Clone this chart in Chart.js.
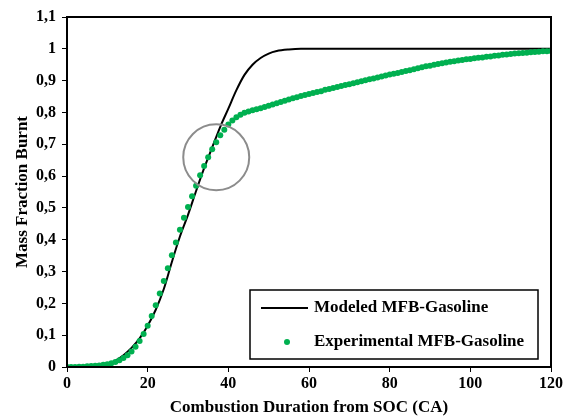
<!DOCTYPE html>
<html>
<head>
<meta charset="utf-8">
<script src="https://cdn.jsdelivr.net/npm/chart.js@4.4.1/dist/chart.umd.min.js"></script>
<style>
  body { margin: 0; background: #fff; }
  #wrap { width: 568px; height: 418px; position: relative; }
</style>
</head>
<body>
<div id="wrap"><canvas id="mfbChart"></canvas></div>
<script>
// experimental points, one per CA degree (0..120)
const expAngle = [];
for (let i = 0; i <= 120; i++) expAngle.push(i);
const expMfb = [
  0.000, 0.000, 0.000, 0.001, 0.001, 0.002, 0.003, 0.004, 0.005, 0.007,
  0.009, 0.012, 0.016, 0.021, 0.028, 0.037, 0.049, 0.064, 0.082, 0.104,
  0.130, 0.160, 0.194, 0.231, 0.270, 0.310, 0.351, 0.391, 0.431, 0.469,
  0.503, 0.537, 0.570, 0.603, 0.632, 0.659, 0.684, 0.706, 0.728, 0.746,
  0.762, 0.775, 0.785, 0.793, 0.799, 0.803, 0.807, 0.810, 0.813, 0.817,
  0.821, 0.825, 0.829, 0.833, 0.837, 0.841, 0.845, 0.848, 0.852, 0.855,
  0.858, 0.861, 0.864, 0.867, 0.871, 0.874, 0.877, 0.880, 0.883, 0.886,
  0.889, 0.892, 0.895, 0.898, 0.901, 0.904, 0.907, 0.910, 0.913, 0.916,
  0.919, 0.922, 0.924, 0.927, 0.930, 0.933, 0.936, 0.939, 0.942, 0.945,
  0.947, 0.950, 0.952, 0.955, 0.957, 0.959, 0.961, 0.963, 0.965, 0.967,
  0.968, 0.970, 0.972, 0.973, 0.975, 0.976, 0.978, 0.979, 0.981, 0.982,
  0.984, 0.985, 0.986, 0.987, 0.988, 0.989, 0.990, 0.991, 0.992, 0.992,
  0.993
];

// modeled curve
const modAngle = [0, 4, 8, 10, 12, 14, 16, 18, 20, 22, 24, 26, 28, 30, 32, 34, 36, 38, 40, 42, 44, 46, 48, 50, 52, 55, 58, 62, 70, 80, 100, 120];
const modMfb   = [0, 0, 0.003, 0.008, 0.02, 0.037, 0.06, 0.09, 0.13, 0.18, 0.245, 0.33, 0.41, 0.478, 0.553, 0.625, 0.69, 0.755, 0.812, 0.87, 0.918, 0.95, 0.971, 0.985, 0.993, 0.998, 1, 1, 1, 1, 1, 1];

// highlight circle
const markAngle = [37];
const markMfb = [0.659];

const xTicks = [0, 20, 40, 60, 80, 100, 120];
const yTicks = [0, 0.1, 0.2, 0.3, 0.4, 0.5, 0.6, 0.7, 0.8, 0.9, 1, 1.1];

const seriesNames = ['Modeled MFB-Gasoline', 'Experimental MFB-Gasoline'];
const green = '#00b050';
const fontFam = '"Liberation Serif", "Times New Roman", serif';

function pts(xs, ys) { return xs.map((x, i) => ({ x: x, y: ys[i] })); }

// frame + legend box
const framePlugin = {
  id: 'frame',
  afterDraw(chart) {
    const c = chart.ctx, a = chart.chartArea;
    c.save();
    c.strokeStyle = '#000';
    c.lineWidth = 2;
    c.strokeRect(a.left, a.top, a.right - a.left, a.bottom - a.top);

    // legend
    c.lineWidth = 1.5;
    c.fillStyle = '#fff';
    c.fillRect(250, 290, 288, 69);
    c.strokeRect(250, 290, 288, 69);
    c.strokeStyle = '#000';
    c.lineWidth = 2;
    c.beginPath();
    c.moveTo(261, 308); c.lineTo(308, 308);
    c.stroke();
    c.fillStyle = green;
    c.beginPath();
    c.arc(287, 342, 3, 0, Math.PI * 2);
    c.fill();
    c.fillStyle = '#000';
    c.font = 'bold 17px ' + fontFam;
    c.textBaseline = 'middle';
    c.fillText(seriesNames[0], 314, 308);
    c.fillText(seriesNames[1], 314, 342);
    c.restore();
  }
};

const tickFont = { family: fontFam, size: 16, weight: 'bold' };
const titleFont = { family: fontFam, size: 17, weight: 'bold' };

new Chart(document.getElementById('mfbChart'), {
  type: 'scatter',
  data: {
    datasets: [
      {
        label: 'mark',
        data: pts(markAngle, markMfb),
        pointRadius: 33,
        pointHoverRadius: 33,
        pointBackgroundColor: 'rgba(0,0,0,0)',
        pointBorderColor: '#8c8c8c',
        pointBorderWidth: 2,
        order: 0
      },
      {
        label: seriesNames[1],
        data: pts(expAngle, expMfb),
        pointRadius: 3,
        pointBackgroundColor: green,
        pointBorderWidth: 0,
        order: 1
      },
      {
        label: seriesNames[0],
        data: pts(modAngle, modMfb),
        showLine: true,
        borderColor: '#000',
        borderWidth: 2,
        pointRadius: 0,
        cubicInterpolationMode: 'monotone',
        order: 2
      }
    ]
  },
  options: {
    responsive: true,
    maintainAspectRatio: false,
    animation: false,
    layout: { autoPadding: false, padding: { top: 17, right: 17, left: 0, bottom: 0 } },
    plugins: { legend: { display: false }, tooltip: { enabled: false } },
    scales: {
      x: {
        type: 'linear',
        min: 0, max: 120,
        afterBuildTicks: s => { s.ticks = xTicks.map(v => ({ value: v })); },
        afterFit: s => { s.height = 51; },
        grid: { drawOnChartArea: false, drawTicks: true, tickLength: 5, tickColor: '#000' },
        border: { color: '#000', width: 2 },
        ticks: { color: '#000', font: tickFont, padding: 2, maxRotation: 0 },
        title: { display: true, text: 'Combustion Duration from SOC (CA)', color: '#000',
                 font: titleFont, padding: { top: 0, bottom: 0 } }
      },
      y: {
        type: 'linear',
        min: 0, max: 1.1,
        afterBuildTicks: s => { s.ticks = yTicks.map(v => ({ value: v })); },
        afterFit: s => { s.width = 67; },
        grid: { drawOnChartArea: false, drawTicks: true, tickLength: 5, tickColor: '#000' },
        border: { color: '#000', width: 2 },
        ticks: {
          color: '#000', font: tickFont, padding: 6,
          callback: v => String(Math.round(v * 10) / 10).replace('.', ',')
        },
        title: { display: true, text: 'Mass Fraction Burnt', color: '#000',
                 font: titleFont, padding: { top: 12, bottom: 0 } }
      }
    }
  },
  plugins: [framePlugin]
});
</script>
</body>
</html>
